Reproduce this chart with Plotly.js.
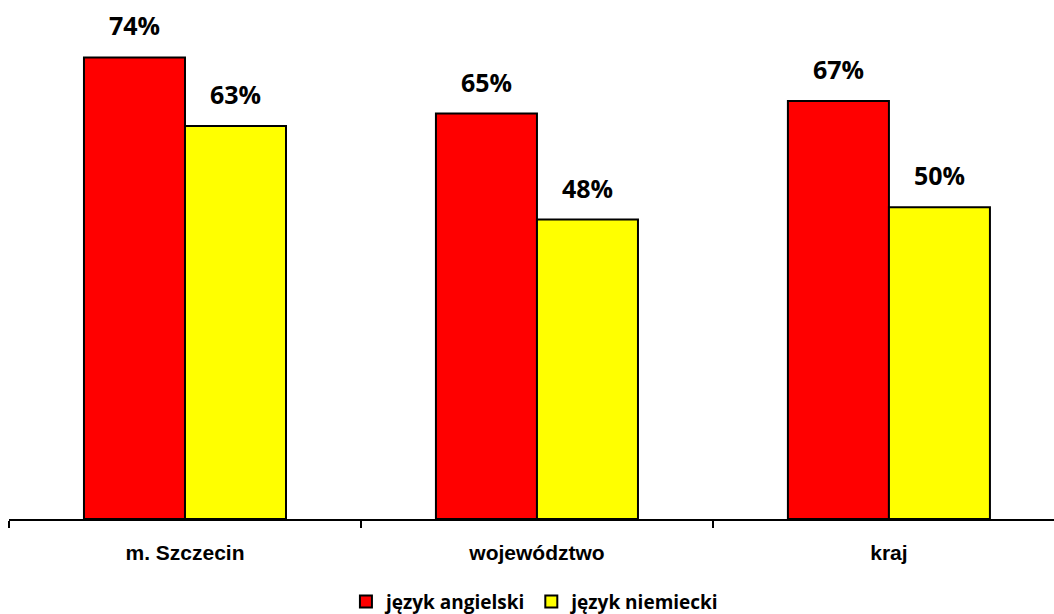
<!DOCTYPE html>
<html>
<head>
<meta charset="utf-8">
<script src="https://cdn.plot.ly/plotly-3.0.1.min.js"></script>
<style>html,body{margin:0;padding:0;overflow:hidden;background:#fff}</style>
</head>
<body>
<div id="chart" style="width:1054px;height:614px"></div>
<script>
const categories = ["m. Szczecin", "województwo", "kraj"];
const seriesNames = ["język angielski", "język niemiecki"];
const angielski = [74, 65, 67];
const niemiecki = [63, 48, 50];
const colors = ["#FF0000", "#FFFF00"];

const seriesValues = [angielski, niemiecki];
const traces = seriesValues.map((vals, i) => ({
  type: "bar",
  name: "<b>" + seriesNames[i] + "</b>",
  x: categories,
  y: vals,
  marker: {color: colors[i], line: {color: "#000", width: 2}},
  hoverinfo: "skip"
}));

const annotations = [];
seriesValues.forEach((vals, i) => {
  vals.forEach((v, j) => {
    annotations.push({
      x: categories[j], y: v, xref: "x", yref: "y",
      text: "<b>" + v + "%</b>", showarrow: false,
      xanchor: "center", yanchor: "bottom",
      xshift: i === 0 ? -50.5 : 50.5, yshift: 13,
      font: {family: "'Open Sans', sans-serif", size: 25, color: "#000"}
    });
  });
});

const layout = {
  width: 1054, height: 614,
  margin: {l: 9, r: 0, t: 20, b: 95},
  paper_bgcolor: "#fff", plot_bgcolor: "#fff",
  barmode: "group", bargap: 0.426, bargroupgap: 0,
  showlegend: true,
  legend: {
    orientation: "h", x: 0.508, xanchor: "center",
    xref: "container", yref: "container", y: 0.02, yanchor: "middle",
    font: {family: "'Open Sans', sans-serif", size: 19, color: "#000"},
    tracegroupgap: 0
  },
  xaxis: {
    type: "category", range: [-0.5, 2.469],
    tickmode: "array", tickvals: categories,
    ticktext: categories.map(c => "<b>" + c + "</b>"),
    showline: true, linecolor: "#000", linewidth: 2,
    ticks: "outside", tickson: "boundaries", ticklen: 7, tickwidth: 2, tickcolor: "#000",
    showgrid: false, zeroline: false,
    tickfont: {family: "'Liberation Sans', Arial, sans-serif", size: 21, color: "#000"},
    ticklabelstandoff: 14
  },
  yaxis: {
    range: [0, 80], visible: false, showgrid: false, zeroline: false
  },
  annotations: annotations
};

Plotly.newPlot("chart", traces, layout, {displayModeBar: false, staticPlot: true});
</script>
</body>
</html>
